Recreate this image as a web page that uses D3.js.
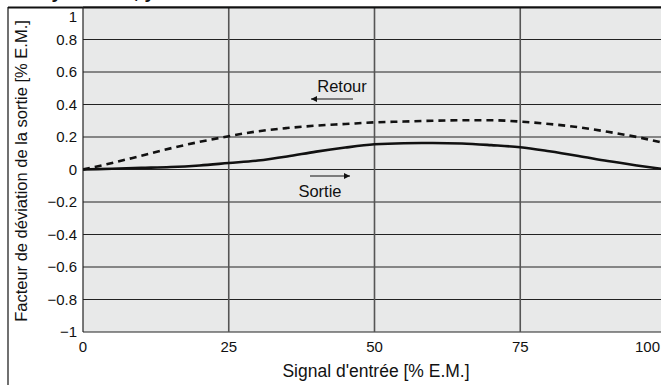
<!DOCTYPE html>
<html>
<head>
<meta charset="utf-8">
<script src="https://cdn.jsdelivr.net/npm/d3@7"></script>
<style>
  body { margin: 0; background: #fff; }
  text { font-family: "Liberation Sans", Arial, sans-serif; fill: #111; }
</style>
</head>
<body>
<div id="chart"></div>
<script>
// input signal [% E.M.]
var xValues = [0, 5, 10, 15, 20, 25, 30, 35, 40, 45, 50, 55, 60, 65, 70, 75, 80, 85, 90, 95, 100];
// Sortie (solid)
var sortieValues = [0, 0.005, 0.01, 0.015, 0.025, 0.04, 0.055, 0.08, 0.11, 0.135, 0.155, 0.162, 0.163, 0.16, 0.15, 0.137, 0.112, 0.083, 0.052, 0.025, 0.0];
// Retour (dashed)
var retourValues = [0, 0.04, 0.085, 0.13, 0.17, 0.205, 0.235, 0.255, 0.27, 0.28, 0.29, 0.295, 0.3, 0.303, 0.303, 0.295, 0.28, 0.26, 0.232, 0.2, 0.16];
var xTicks = [0, 25, 50, 75, 100];
var yTicks = [-1, -0.8, -0.6, -0.4, -0.2, 0, 0.2, 0.4, 0.6, 0.8, 1];

function draw() {
    var width = 661, height = 385;
    var margin = {top: 7, right: -5, bottom: 53, left: 83};

    var svg = d3.select("#chart").append("svg")
        .attr("width", width)
        .attr("height", height);

    var x = d3.scaleLinear().domain([0, 100]).range([margin.left, width - margin.right]);
    var y = d3.scaleLinear().domain([-1, 1]).range([height - margin.bottom, margin.top]);

    // title, cut off at the top edge like in the original
    svg.append("text")
        .attr("x", 155).attr("y", -2)
        .attr("text-anchor", "end")
        .attr("font-weight", "bold")
        .attr("font-size", 19)
        .text("Hystérésis, y");

    // outer frame
    svg.append("line").attr("x1", 8).attr("x2", 8).attr("y1", 7).attr("y2", height)
        .attr("stroke", "#111").attr("stroke-width", 1.2);

    // plot background
    svg.append("rect")
        .attr("x", x(0)).attr("y", y(1))
        .attr("width", x(100) - x(0)).attr("height", y(-1) - y(1))
        .attr("fill", "#e8e9e9");

    // horizontal grid
    svg.append("g").selectAll("line").data(yTicks).enter().append("line")
        .attr("x1", x(0)).attr("x2", width)
        .attr("y1", d => y(d)).attr("y2", d => y(d))
        .attr("stroke", "#222").attr("stroke-width", 1);

    // vertical grid
    svg.append("g").selectAll("line").data([25, 50, 75]).enter().append("line")
        .attr("x1", d => x(d)).attr("x2", d => x(d))
        .attr("y1", y(1)).attr("y2", y(-1))
        .attr("stroke", "#555").attr("stroke-width", 1.6);

    // top frame line
    svg.append("line").attr("x1", 8).attr("x2", width).attr("y1", 7.5).attr("y2", 7.5)
        .attr("stroke", "#111").attr("stroke-width", 2);
    // left axis line
    svg.append("line").attr("x1", x(0)).attr("x2", x(0)).attr("y1", y(1)).attr("y2", y(-1))
        .attr("stroke", "#222").attr("stroke-width", 1.2);

    // y tick labels
    svg.append("g").selectAll("text").data(yTicks).enter().append("text")
        .attr("x", 77)
        .attr("y", d => d == 1 ? y(d) + 15 : y(d) + 5)
        .attr("text-anchor", "end")
        .attr("font-size", 15)
        .text(d => d < 0 ? "\u2212" + d3.format("")(Math.abs(d)) : d3.format("")(d));

    // x tick labels
    svg.append("g").selectAll("text").data(xTicks).enter().append("text")
        .attr("x", d => d == 100 ? 660 : x(d))
        .attr("y", 352)
        .attr("text-anchor", d => d == 100 ? "end" : "middle")
        .attr("font-size", 15)
        .text(d => d);

    // axis titles
    svg.append("text")
        .attr("x", 376).attr("y", 377)
        .attr("text-anchor", "middle")
        .attr("font-size", 17.5)
        .text("Signal d'entrée [% E.M.]");

    svg.append("text")
        .attr("transform", "translate(27," + 171 + ") rotate(-90)")
        .attr("text-anchor", "middle")
        .attr("font-size", 16.5)
        .text("Facteur de déviation de la sortie [% E.M.]");

    var line = d3.line()
        .x((d, i) => x(xValues[i]))
        .y(d => y(d))
        .curve(d3.curveMonotoneX);

    svg.append("clipPath").attr("id", "plotclip").append("rect")
        .attr("x", x(0)).attr("y", y(1)).attr("width", x(100) - x(0)).attr("height", y(-1) - y(1));

    svg.append("path")
        .attr("d", line(retourValues))
        .attr("fill", "none")
        .attr("stroke", "#111")
        .attr("stroke-width", 2.6)
        .attr("stroke-dasharray", "7,5")
        .attr("clip-path", "url(#plotclip)");

    svg.append("path")
        .attr("d", line(sortieValues))
        .attr("fill", "none")
        .attr("stroke", "#111")
        .attr("stroke-width", 2.6)
        .attr("clip-path", "url(#plotclip)");

    // arrow marker
    svg.append("defs").append("marker")
        .attr("id", "arrow")
        .attr("viewBox", "0 0 10 10")
        .attr("refX", 10).attr("refY", 5)
        .attr("markerWidth", 11).attr("markerHeight", 6)
        .attr("markerUnits", "userSpaceOnUse")
        .attr("orient", "auto")
        .append("path").attr("d", "M0,0L10,5L0,10Z").attr("fill", "#111");

    // annotations
    svg.append("text").attr("x", 342).attr("y", 92)
        .attr("text-anchor", "middle").attr("font-size", 16.5).text("Retour");
    svg.append("line")
        .attr("x1", 353).attr("x2", 311).attr("y1", 99).attr("y2", 99)
        .attr("stroke", "#111").attr("stroke-width", 1.2)
        .attr("marker-end", "url(#arrow)");

    svg.append("text").attr("x", 320).attr("y", 197)
        .attr("text-anchor", "middle").attr("font-size", 16.5).text("Sortie");
    svg.append("line")
        .attr("x1", 310).attr("x2", 350).attr("y1", 176).attr("y2", 176)
        .attr("stroke", "#111").attr("stroke-width", 1.2)
        .attr("marker-end", "url(#arrow)");
}

window.onload = draw;
</script>
</body>
</html>
